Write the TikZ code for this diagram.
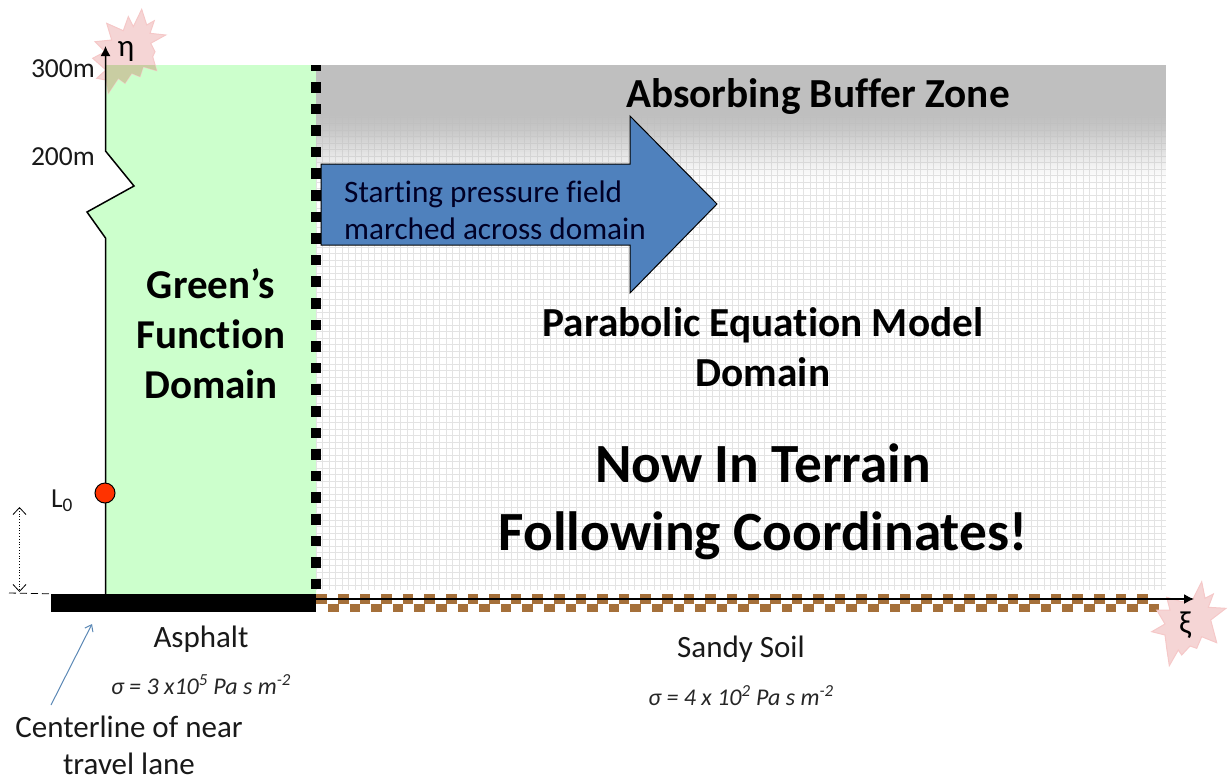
\documentclass[tikz,border=0pt]{standalone}
\usepackage{fontspec}
\setmainfont[Ligatures=NoCommon]{Carlito}
\usetikzlibrary{arrows.meta}
\definecolor{greenzone}{HTML}{CCFFCC}
\definecolor{bufgrey}{HTML}{BFBFBF}
\definecolor{gridgrey}{HTML}{E3E3E3}
\definecolor{marchblue}{HTML}{4F81BD}
\definecolor{soilbrown}{HTML}{A5703A}
\definecolor{starpink}{HTML}{F5D5D5}
\definecolor{starline}{HTML}{F5C8C8}
\definecolor{staroverlap}{HTML}{C9CDA2}
\definecolor{dotred}{HTML}{FF3300}
\definecolor{leaderblue}{HTML}{5B88B5}
\tikzset{
  label28/.style={font=\fontsize{31}{37}\selectfont, align=center, text=black!90},
  sidelabel/.style={font=\fontsize{27.5}{32}\selectfont, text=black!90},
  bigbold/.style={font=\bfseries\fontsize{41}{50}\selectfont, align=center, text=black},
  midbold/.style={font=\bfseries\fontsize{41.3}{50}\selectfont, align=center, text=black},
  hugebold/.style={font=\bfseries\fontsize{55.3}{68}\selectfont, align=center, text=black},
  sigma/.style={font=\itshape\fontsize{24}{28}\selectfont, text=black!85},
  starshape/.style={fill=starpink, draw=starline, line width=1pt},
  axis/.style={draw=black, line width=1.5pt, -{Latex[length=10pt,width=10pt]}},
  blacksq/.style={fill=black},
  brownsq/.style={fill=soilbrown}
}
\def\starone{(141.7,9.3)--(146.7,25)--(154.3,20.7)--(150,33.3)--(165.7,35)--(150.7,43.3)--(155,51.7)--(152.7,56.7)--(156.7,70.7)--(143.3,66.7)--(140,76.7)--(131.7,73.3)--(125,83.3)--(118.3,78.3)--(108.3,93.3)--(106,80)--(96.7,78.3)--(106,70)--(92.7,58.3)--(105,51.7)--(95,41.7)--(111.7,40)--(106.7,23.3)--(123.3,30.7)--(128.3,16.7)--(133.3,26.7)--cycle}
\begin{document}
\begin{tikzpicture}[x=1pt,y=-1pt]
\useasboundingbox (0,0) rectangle (1231,780);
% domains
\fill[greenzone] (105.5,65) -- (316,65) -- (316,595) -- (105.5,595) -- (105.5,238) -- (87,212) -- (134,186) -- (105.5,151) -- cycle;
\draw[gridgrey, line width=.7pt] \foreach \i in {0,...,130} {(316+6.5*\i,65) -- (316+6.5*\i,590)};
\draw[gridgrey, line width=.7pt] \foreach \i in {0,...,80} {(316,65+6.5*\i) -- (1166,65+6.5*\i)};
\fill[bufgrey] (316,65) rectangle (1166,112);
\foreach \i in {0,...,37} {
  \pgfmathsetmacro{\tt}{(\i+0.5)/38}
  \pgfmathsetmacro{\op}{1-(3*\tt*\tt-2*\tt*\tt*\tt)}
  \fill[bufgrey, opacity=\op] (316,112+2*\i) rectangle (1166,114+2*\i);
}
% black dashes
\fill[blacksq] (311,65) rectangle (321,71);
\foreach \i in {0,...,23} \fill[blacksq] (311,82+21.6*\i) rectangle (321,92.5+21.6*\i);
% ground
\foreach \i in {0,...,37} \fill[brownsq] (338+21.6*\i,594) rectangle (348.5+21.6*\i,604);
\fill[brownsq] (316,594) rectangle (327,604);
\foreach \i in {0,...,38} \fill[brownsq] (328+21.6*\i,603.5) rectangle (338.5+21.6*\i,612);
\node[fill=black, inner sep=0pt, minimum width=265pt, minimum height=18pt] (asphalt) at (183.5,603) {};
% stars
\draw[starshape] \starone;
\begin{scope}
  \clip (105.5,65) rectangle (316,100);
  \fill[staroverlap] \starone;
\end{scope}
\draw[starshape] (1201.7,581.7)--(1205,598.3)--(1213.3,594)--(1208.3,607.3)--(1226,608.3)--(1210.7,620)--(1216.7,642.7)--(1201.7,636.7)--(1196.7,648.3)--(1190,646)--(1181.7,655)--(1178.3,650)--(1169.3,665.7)--(1166.7,648.3)--(1165,635)--(1151.7,631.7)--(1165,624)--(1156.7,610)--(1170,610)--(1166.7,597.3)--(1181.7,601.7)--(1193.3,598.3)--cycle;
% axes
\coordinate (axisfoot) at (105.5,595);
\coordinate (axistop) at (105.5,46);
\draw[axis] (axisfoot) -- (105.5,238) -- (87,212) -- (134,186) -- (105.5,151) -- (axistop);
\coordinate (xistart) at (316,599);
\coordinate (xiend) at (1194,599);
\draw[axis] (xistart) -- (xiend);
\node[circle, fill=dotred, draw=black, line width=1pt, minimum size=20pt, inner sep=0pt] (lzero) at (105,493) {};
% height arrow
\coordinate (htop) at (19.5,507);
\coordinate (hbot) at (19.5,592);
\draw[black, dotted, line width=.8pt, {Straight Barb[length=7pt,width=13pt]}-{Straight Barb[length=7pt,width=13pt]}] (htop) -- (hbot);
\coordinate (dashl) at (9,593);
\draw[black, line width=.8pt, dash pattern=on 7pt off 4pt] (dashl) -- (asphalt.north west);
% march arrow
\draw[black, line width=1pt, fill=marchblue] (321,164) -- (630,164) -- (630,116) -- (717,204) -- (630,293) -- (630,245) -- (321,245) -- cycle;
\node[font=\fontsize{31.2}{37}\selectfont, align=left, anchor=west, text=black!85!blue, inner sep=0pt] at (344,210) {Starting pressure field\\marched across domain};
% labels
\node[sidelabel, anchor=east, inner sep=0pt] at (95,69) {300m};
\node[sidelabel, anchor=east, inner sep=0pt] at (95,157) {200m};
\node[font=\fontsize{31}{32}\selectfont, text=black] at (126,51) {η};
\node[font=\fontsize{32}{32}\selectfont, text=black] at (1185,625) {ξ};
\node[sidelabel] at (62,501) {L\textsubscript{0}};
\node[bigbold] at (211,334) {Green’s\\Function\\Domain};
\node[midbold] at (818,97) {Absorbing Buffer Zone};
\node[midbold] at (763,347) {Parabolic Equation Model\\Domain};
\node[hugebold] at (763,502) {Now In Terrain\\Following Coordinates!};
\node[label28] (asphaltlabel) at (201,639) {Asphalt};
\node[label28] at (741,649) {Sandy Soil};
\node[sigma] at (201,685) {σ = 3 x10\textsuperscript{5} Pa s m\textsuperscript{-2}};
\node[sigma] at (741,696) {σ = 4 x 10\textsuperscript{2} Pa s m\textsuperscript{-2}};
\node[font=\fontsize{31}{37}\selectfont, align=center, text=black!90] (lane) at (129,745) {Centerline of near\\travel lane};
\coordinate (leadstart) at (51,705);
\coordinate (leadend) at (92,624);
\draw[leaderblue, line width=1pt, -{Straight Barb[length=6pt,width=9pt]}] (leadstart) -- (leadend);
\end{tikzpicture}
\end{document}
